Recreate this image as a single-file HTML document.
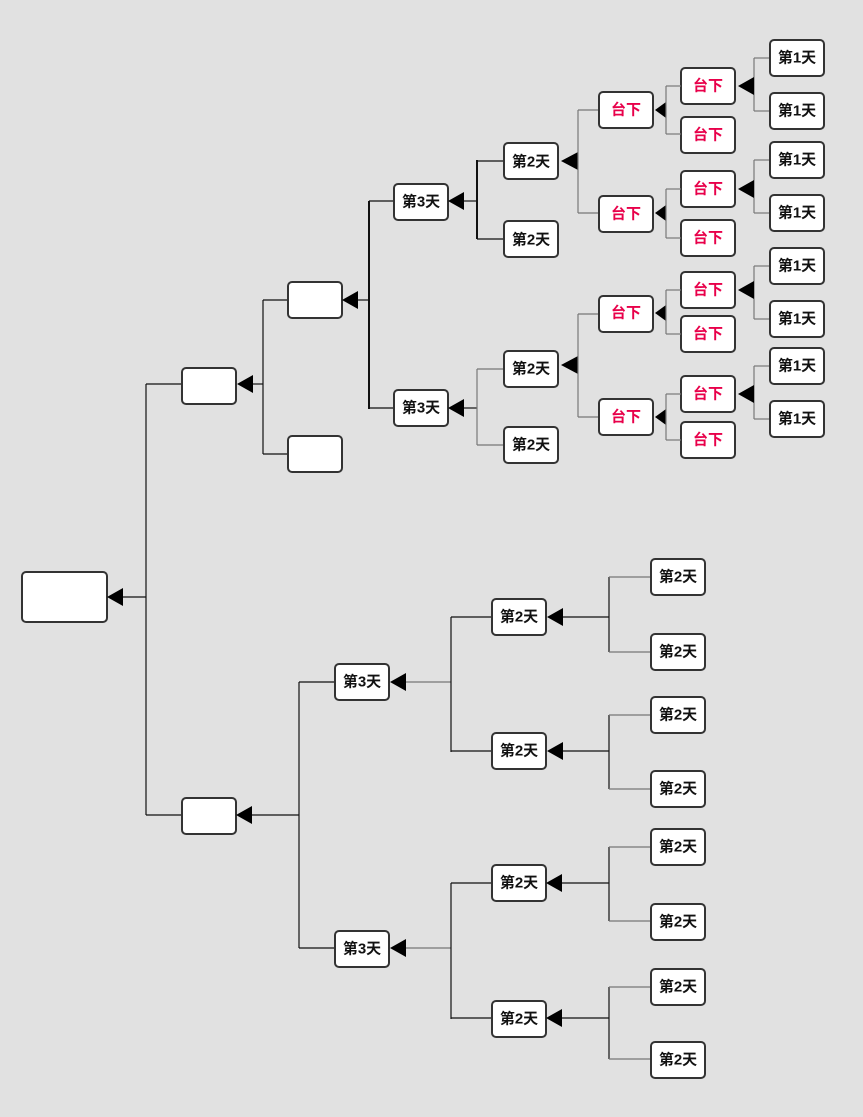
<!DOCTYPE html>
<html><head><meta charset="utf-8"><style>
html,body{margin:0;padding:0;background:#e1e1e1;}
svg{display:block}
text{font-family:"Liberation Sans","Noto Sans CJK SC",sans-serif;font-size:15px;text-anchor:middle;dominant-baseline:central;fill:#111;font-weight:bold}
.r text{fill:#e8004a}
rect{fill:#fff;stroke:#333;stroke-width:2}
line,polyline{stroke:#111;stroke-width:1.2;fill:none}
.g line{stroke:#777}
polygon{fill:#000}
</style></head><body>
<svg width="863" height="1117" viewBox="0 0 863 1117">
<rect x="22" y="572" width="85" height="50" rx="4"/>
<polygon points="107,597 123,588 123,606"/>
<line x1="123" y1="597" x2="146" y2="597"/>
<line x1="146" y1="384" x2="146" y2="815"/>
<line x1="146" y1="384" x2="182" y2="384"/>
<line x1="146" y1="815" x2="182" y2="815"/>
<rect x="182" y="368" width="54" height="36" rx="4"/>
<polygon points="237,384 253,375 253,393"/>
<line x1="253" y1="384" x2="263" y2="384"/>
<line x1="263" y1="300" x2="263" y2="454"/>
<line x1="263" y1="300" x2="288" y2="300"/>
<line x1="263" y1="454" x2="288" y2="454"/>
<rect x="288" y="282" width="54" height="36" rx="4"/>
<rect x="288" y="436" width="54" height="36" rx="4"/>
<polygon points="342,300 358,291 358,309"/>
<line x1="358" y1="300" x2="369" y2="300"/>
<line x1="369" y1="201" x2="369" y2="409" style="stroke-width:2"/>
<line x1="369" y1="201" x2="394" y2="201"/>
<line x1="369" y1="408" x2="394" y2="408"/>
<rect x="394" y="184" width="54" height="36" rx="4"/><text x="421" y="202">第3天</text>
<rect x="394" y="390" width="54" height="36" rx="4"/><text x="421" y="408">第3天</text>
<polygon points="448,201 464,192 464,210"/>
<line x1="464" y1="201" x2="477" y2="201"/>
<line x1="477" y1="160" x2="477" y2="239" style="stroke-width:2"/>
<line x1="477" y1="161" x2="504" y2="161"/>
<line x1="477" y1="239" x2="504" y2="239"/>
<rect x="504" y="143" width="54" height="36" rx="4"/><text x="531" y="162">第2天</text>
<rect x="504" y="221" width="54" height="36" rx="4"/><text x="531" y="240">第2天</text>
<polygon points="561,161 578,152 578,170"/>
<g class="g"><line x1="578" y1="110" x2="578" y2="213"/><line x1="578" y1="110" x2="599" y2="110"/><line x1="578" y1="213" x2="599" y2="213"/></g>
<g class="r">
<rect x="599" y="92" width="54" height="36" rx="4"/><text x="626" y="110">台下</text>
<rect x="599" y="196" width="54" height="36" rx="4"/><text x="626" y="214">台下</text>
<rect x="681" y="68" width="54" height="36" rx="4"/><text x="708" y="86">台下</text>
<rect x="681" y="117" width="54" height="36" rx="4"/><text x="708" y="135">台下</text>
<rect x="681" y="171" width="54" height="36" rx="4"/><text x="708" y="189">台下</text>
<rect x="681" y="220" width="54" height="36" rx="4"/><text x="708" y="238">台下</text>
</g>
<polygon points="655,110 666,102 666,118"/>
<polygon points="655,213 666,205 666,221"/>
<g class="g">
<line x1="666" y1="86" x2="666" y2="134"/><line x1="666" y1="86" x2="681" y2="86"/><line x1="666" y1="134" x2="681" y2="134"/>
<line x1="666" y1="189" x2="666" y2="238"/><line x1="666" y1="189" x2="681" y2="189"/><line x1="666" y1="238" x2="681" y2="238"/>
<line x1="754" y1="58" x2="754" y2="111"/><line x1="754" y1="58" x2="770" y2="58"/><line x1="754" y1="111" x2="770" y2="111"/>
<line x1="754" y1="160" x2="754" y2="213"/><line x1="754" y1="160" x2="770" y2="160"/><line x1="754" y1="213" x2="770" y2="213"/>
</g>
<polygon points="738,86 754,77 754,95"/>
<polygon points="738,189 754,180 754,198"/>
<rect x="770" y="40" width="54" height="36" rx="4"/><text x="797" y="58">第1天</text>
<rect x="770" y="93" width="54" height="36" rx="4"/><text x="797" y="111">第1天</text>
<rect x="770" y="142" width="54" height="36" rx="4"/><text x="797" y="160">第1天</text>
<rect x="770" y="195" width="54" height="36" rx="4"/><text x="797" y="213">第1天</text>
<polygon points="448,408 464,399 464,417"/>
<line x1="464" y1="408" x2="477" y2="408"/>
<g class="g"><line x1="477" y1="369" x2="477" y2="445"/><line x1="477" y1="369" x2="504" y2="369"/><line x1="477" y1="445" x2="504" y2="445"/></g>
<rect x="504" y="351" width="54" height="36" rx="4"/><text x="531" y="369">第2天</text>
<rect x="504" y="427" width="54" height="36" rx="4"/><text x="531" y="445">第2天</text>
<polygon points="561,365 578,356 578,374"/>
<g class="g"><line x1="578" y1="314" x2="578" y2="417"/><line x1="578" y1="314" x2="599" y2="314"/><line x1="578" y1="417" x2="599" y2="417"/></g>
<g class="r">
<rect x="599" y="296" width="54" height="36" rx="4"/><text x="626" y="313">台下</text>
<rect x="599" y="399" width="54" height="36" rx="4"/><text x="626" y="417">台下</text>
<rect x="681" y="272" width="54" height="36" rx="4"/><text x="708" y="290">台下</text>
<rect x="681" y="316" width="54" height="36" rx="4"/><text x="708" y="334">台下</text>
<rect x="681" y="376" width="54" height="36" rx="4"/><text x="708" y="394">台下</text>
<rect x="681" y="422" width="54" height="36" rx="4"/><text x="708" y="440">台下</text>
</g>
<polygon points="655,313 666,305 666,321"/>
<polygon points="655,417 666,409 666,425"/>
<g class="g">
<line x1="666" y1="290" x2="666" y2="334"/><line x1="666" y1="290" x2="681" y2="290"/><line x1="666" y1="334" x2="681" y2="334"/>
<line x1="666" y1="394" x2="666" y2="440"/><line x1="666" y1="394" x2="681" y2="394"/><line x1="666" y1="440" x2="681" y2="440"/>
<line x1="754" y1="266" x2="754" y2="319"/><line x1="754" y1="266" x2="770" y2="266"/><line x1="754" y1="319" x2="770" y2="319"/>
<line x1="754" y1="366" x2="754" y2="419"/><line x1="754" y1="366" x2="770" y2="366"/><line x1="754" y1="419" x2="770" y2="419"/>
</g>
<polygon points="738,290 754,281 754,299"/>
<polygon points="738,394 754,385 754,403"/>
<rect x="770" y="248" width="54" height="36" rx="4"/><text x="797" y="266">第1天</text>
<rect x="770" y="301" width="54" height="36" rx="4"/><text x="797" y="319">第1天</text>
<rect x="770" y="348" width="54" height="36" rx="4"/><text x="797" y="366">第1天</text>
<rect x="770" y="401" width="54" height="36" rx="4"/><text x="797" y="419">第1天</text>
<rect x="182" y="798" width="54" height="36" rx="4"/>
<polygon points="236,815 252,806 252,824"/>
<line x1="252" y1="815" x2="299" y2="815"/>
<line x1="299" y1="682" x2="299" y2="948"/>
<line x1="299" y1="682" x2="335" y2="682"/>
<line x1="299" y1="948" x2="335" y2="948"/>
<rect x="335" y="664" width="54" height="36" rx="4"/><text x="362" y="682">第3天</text>
<rect x="335" y="931" width="54" height="36" rx="4"/><text x="362" y="949">第3天</text>
<polygon points="390,682 406,673 406,691"/>
<polygon points="390,948 406,939 406,957"/>
<g class="g"><line x1="406" y1="682" x2="451" y2="682"/><line x1="406" y1="948" x2="451" y2="948"/></g>
<line x1="451" y1="617" x2="451" y2="752"/><line x1="451" y1="617" x2="492" y2="617"/><line x1="451" y1="751" x2="492" y2="751"/>
<line x1="451" y1="883" x2="451" y2="1019"/><line x1="451" y1="883" x2="492" y2="883"/><line x1="451" y1="1018" x2="492" y2="1018"/>
<rect x="492" y="599" width="54" height="36" rx="4"/><text x="519" y="617">第2天</text>
<rect x="492" y="733" width="54" height="36" rx="4"/><text x="519" y="751">第2天</text>
<rect x="492" y="865" width="54" height="36" rx="4"/><text x="519" y="883">第2天</text>
<rect x="492" y="1001" width="54" height="36" rx="4"/><text x="519" y="1019">第2天</text>
<polygon points="547,617 563,608 563,626"/>
<polygon points="547,751 563,742 563,760"/>
<polygon points="546,883 562,874 562,892"/>
<polygon points="546,1018 562,1009 562,1027"/>
<line x1="563" y1="617" x2="609" y2="617"/><line x1="563" y1="751" x2="609" y2="751"/>
<line x1="562" y1="883" x2="609" y2="883"/><line x1="562" y1="1018" x2="609" y2="1018"/>
<line x1="609" y1="577" x2="609" y2="652"/><line x1="609" y1="715" x2="609" y2="789"/>
<line x1="609" y1="847" x2="609" y2="921"/><line x1="609" y1="987" x2="609" y2="1059"/>
<g class="g">
<line x1="609" y1="577" x2="651" y2="577"/><line x1="609" y1="652" x2="651" y2="652"/>
<line x1="609" y1="715" x2="651" y2="715"/><line x1="609" y1="789" x2="651" y2="789"/>
<line x1="609" y1="847" x2="651" y2="847"/><line x1="609" y1="921" x2="651" y2="921"/>
<line x1="609" y1="987" x2="651" y2="987"/><line x1="609" y1="1059" x2="651" y2="1059"/>
</g>
<rect x="651" y="559" width="54" height="36" rx="4"/><text x="678" y="577">第2天</text>
<rect x="651" y="634" width="54" height="36" rx="4"/><text x="678" y="652">第2天</text>
<rect x="651" y="697" width="54" height="36" rx="4"/><text x="678" y="715">第2天</text>
<rect x="651" y="771" width="54" height="36" rx="4"/><text x="678" y="789">第2天</text>
<rect x="651" y="829" width="54" height="36" rx="4"/><text x="678" y="847">第2天</text>
<rect x="651" y="904" width="54" height="36" rx="4"/><text x="678" y="922">第2天</text>
<rect x="651" y="969" width="54" height="36" rx="4"/><text x="678" y="987">第2天</text>
<rect x="651" y="1042" width="54" height="36" rx="4"/><text x="678" y="1060">第2天</text>
</svg>
</body></html>
